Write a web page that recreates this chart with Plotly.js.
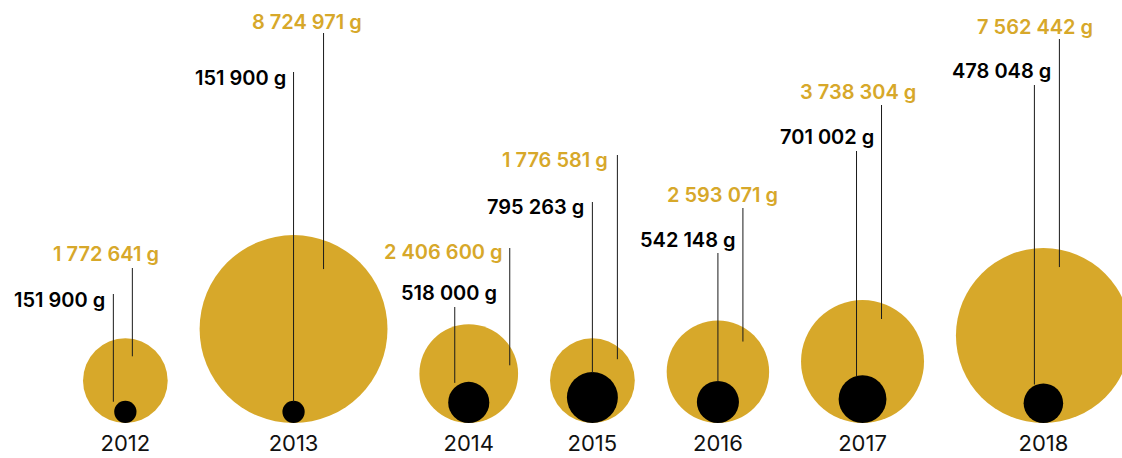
<!DOCTYPE html>
<html>
<head>
<meta charset="utf-8">
<script src="https://cdn.plot.ly/plotly-3.0.1.min.js"></script>
<style>html,body{margin:0;padding:0;background:#fff;}#chart{width:1122px;height:458px;}</style>
</head>
<body>
<div id="chart"></div>
<script>
// ---- data ----
var years = ['2012', '2013', '2014', '2015', '2016', '2017', '2018'];
var goldValues = [1772641, 8724971, 2406600, 1776581, 2593071, 3738304, 7562442];
var blackValues = [151900, 151900, 518000, 795263, 542148, 701002, 478048];

// ---- layout helpers (pixel offsets, not data) ----
var goldLabelDx = [36, 70, 36, 18, 62, 55, 52];
var goldLabelTop = [254, 22, 252, 160, 195, 92, 27];
var goldLineDx = [7, 30, 41, 25, 25, 19, 16];
var goldLineTop = [268, 33, 248, 155, 208, 105, 39];
var goldLineDepth = [18, 34, 41, 21, 21, 19, 19];
var blackLabelDx = [-18, -6, 30, -6, 20, 13, 10];
var blackLabelTop = [300, 78, 293, 207, 240, 137, 71];
var blackLineDx = [-12, 0, -14, 0, 0, -6, -9];
var blackLineTop = [294, 72, 307, 202, 253, 151, 85];

var GOLD = '#D7A82A';
var BLACK = '#000000';
var H = 423;           // plot height in px = y units
var W = 1122;
// pixel diameter = sqrt(value / ref); Plotly area mode halves the value internally, hence 2*ref as sizeref
var goldRef = 247.1, blackRef = 306.2;
var startX = 83, gap = 31.9;

function diam(v, ref) { return Math.sqrt(v / ref); }
function fmt(v) { return String(v).replace(/\B(?=(\d{3})+(?!\d))/g, ' ') + ' g'; }

var gd = goldValues.map(function (v) { return diam(v, goldRef); });
var bd = blackValues.map(function (v) { return diam(v, blackRef); });
var cx = [];
var left = startX;
for (var i = 0; i < gd.length; i++) { cx.push(left + gd[i] / 2); left += gd[i] + gap; }

var traces = [
  { type: 'scatter', mode: 'markers', x: cx, y: gd.map(function (d) { return d / 2; }),
    marker: { size: goldValues, sizemode: 'area', sizeref: 2 * goldRef, color: GOLD, opacity: 1, line: { width: 0 } },
    hoverinfo: 'skip', cliponaxis: false },
  { type: 'scatter', mode: 'markers', x: cx, y: bd.map(function (d) { return d / 2; }),
    marker: { size: blackValues, sizemode: 'area', sizeref: 2 * blackRef, color: BLACK, opacity: 1, line: { width: 0 } },
    hoverinfo: 'skip', cliponaxis: false }
];

var shapes = [], annotations = [];
var labelFont = { family: 'Inter, "Liberation Sans", sans-serif', size: 20, weight: 600 };
for (var j = 0; j < years.length; j++) {
  var gx = cx[j] + goldLineDx[j];
  shapes.push({ type: 'line', xref: 'x', yref: 'y', x0: gx, x1: gx, y0: H - goldLineTop[j], y1: gd[j] - goldLineDepth[j],
    line: { color: '#1a1a1a', width: 1 } });
  var bx = cx[j] + blackLineDx[j];
  shapes.push({ type: 'line', xref: 'x', yref: 'y', x0: bx, x1: bx, y0: H - blackLineTop[j], y1: bd[j] - 1,
    line: { color: '#1a1a1a', width: 1 } });
  annotations.push({ xref: 'x', yref: 'y', x: cx[j] + goldLabelDx[j], y: H - goldLabelTop[j], text: fmt(goldValues[j]),
    xanchor: 'right', yanchor: 'middle', showarrow: false,
    font: Object.assign({}, labelFont, { color: GOLD }) });
  annotations.push({ xref: 'x', yref: 'y', x: cx[j] + blackLabelDx[j], y: H - blackLabelTop[j], text: fmt(blackValues[j]),
    xanchor: 'right', yanchor: 'middle', showarrow: false,
    font: Object.assign({}, labelFont, { color: BLACK }) });
}

var layout = {
  width: W, height: 458,
  margin: { l: 0, r: 0, t: 0, b: 458 - H, pad: 0 },
  paper_bgcolor: '#ffffff', plot_bgcolor: '#ffffff',
  showlegend: false,
  xaxis: { range: [0, W], tickvals: cx, ticktext: years, showgrid: false, zeroline: false, showline: false,
    ticks: '', ticklabelstandoff: 5,
    tickfont: { family: 'Inter, "Liberation Sans", sans-serif', size: 22, color: '#111' }, fixedrange: true },
  yaxis: { range: [0, H], visible: false, showgrid: false, zeroline: false, fixedrange: true },
  shapes: shapes,
  annotations: annotations
};

Plotly.newPlot('chart', traces, layout, { displayModeBar: false, staticPlot: true });
</script>
</body>
</html>
